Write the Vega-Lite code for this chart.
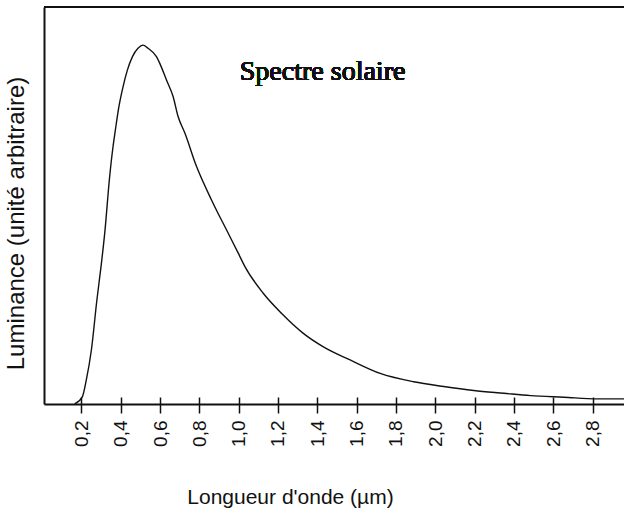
{
  "$schema": "https://vega.github.io/schema/vega-lite/v6.json",
  "width": 580,
  "height": 397,
  "autosize": "none",
  "padding": {"left": 44, "top": 7, "right": 0, "bottom": 120},
  "background": "white",
  "config": {"view": {"stroke": null}, "font": "Liberation Sans"},
  "data": {"values": [
    {"x": 0.166, "y": 0.0},
    {"x": 0.205, "y": 0.018},
    {"x": 0.225, "y": 0.06},
    {"x": 0.251, "y": 0.136},
    {"x": 0.279, "y": 0.262},
    {"x": 0.3, "y": 0.346},
    {"x": 0.319, "y": 0.431},
    {"x": 0.344, "y": 0.573},
    {"x": 0.361, "y": 0.648},
    {"x": 0.373, "y": 0.69},
    {"x": 0.391, "y": 0.749},
    {"x": 0.412, "y": 0.799},
    {"x": 0.434, "y": 0.841},
    {"x": 0.46, "y": 0.875},
    {"x": 0.488, "y": 0.896},
    {"x": 0.514, "y": 0.904},
    {"x": 0.539, "y": 0.896},
    {"x": 0.582, "y": 0.875},
    {"x": 0.599, "y": 0.858},
    {"x": 0.633, "y": 0.816},
    {"x": 0.667, "y": 0.774},
    {"x": 0.692, "y": 0.724},
    {"x": 0.726, "y": 0.683},
    {"x": 0.786, "y": 0.598},
    {"x": 0.862, "y": 0.514},
    {"x": 0.947, "y": 0.43},
    {"x": 0.998, "y": 0.38},
    {"x": 1.032, "y": 0.346},
    {"x": 1.125, "y": 0.279},
    {"x": 1.219, "y": 0.228},
    {"x": 1.329, "y": 0.178},
    {"x": 1.431, "y": 0.144},
    {"x": 1.567, "y": 0.111},
    {"x": 1.72, "y": 0.077},
    {"x": 1.89, "y": 0.056},
    {"x": 2.043, "y": 0.044},
    {"x": 2.196, "y": 0.034},
    {"x": 2.349, "y": 0.027},
    {"x": 2.485, "y": 0.021},
    {"x": 2.654, "y": 0.017},
    {"x": 2.825, "y": 0.013},
    {"x": 2.96, "y": 0.013}
  ]},
  "layer": [
    {
      "mark": {"type": "line", "color": "#111", "strokeWidth": 1.4, "interpolate": "monotone", "clip": true},
      "encoding": {
        "x": {"field": "x", "type": "quantitative", "scale": {"domain": [0.01, 2.96], "nice": false, "zero": false},
          "axis": {"orient": "bottom", "values": [0.2,0.4,0.6,0.8,1.0,1.2,1.4,1.6,1.8,2.0,2.2,2.4,2.6,2.8], "offset": -7, "domain": false, "grid": false, "labels": false, "title": null, "tickSize": 16, "tickColor": "#111", "tickWidth": 1.5}},
        "y": {"field": "y", "type": "quantitative", "scale": {"domain": [0, 1], "nice": false},
          "axis": {"domain": true, "domainColor": "#111", "domainWidth": 2, "ticks": false, "labels": false, "grid": false,
            "title": "Luminance (unité arbitraire)", "titleFontSize": 24, "titleFontWeight": "normal", "titleColor": "#111", "titleFont": "Liberation Sans", "titleX": -28, "titleY": 216, "titleAngle": 270, "titleAlign": "center", "titleBaseline": "middle"}}
      }
    },
    {
      "mark": {"type": "rule", "color": "#111", "strokeWidth": 2},
      "encoding": {"y": {"datum": 1}}
    },
    {
      "mark": {"type": "text", "font": "Liberation Serif", "fontSize": 28, "color": "#111", "align": "center", "baseline": "alphabetic"},
      "encoding": {
        "x": {"datum": 1.427, "type": "quantitative", "scale": {"domain": [0.01, 2.96], "nice": false, "zero": false},
          "axis": {"orient": "bottom", "values": [0.2,0.4,0.6,0.8,1.0,1.2,1.4,1.6,1.8,2.0,2.2,2.4,2.6,2.8], "domain": true, "domainColor": "#111", "domainWidth": 2, "ticks": false, "grid": false,
            "labelExpr": "replace(format(datum.value, '.1f'), '.', ',')", "labelAngle": 270, "labelAlign": "right", "labelBaseline": "middle", "labelPadding": 16, "labelFontSize": 19, "labelColor": "#111", "labelFont": "Liberation Sans",
            "title": "Longueur d'onde (µm)", "titleFontSize": 21, "titleFontWeight": "normal", "titleColor": "#111", "titleFont": "Liberation Sans", "titleX": 246, "titleY": 93, "titleAlign": "center", "titleBaseline": "middle"}},
        "y": {"datum": 0.816, "type": "quantitative"},
        "text": {"value": "Spectre solaire"}
      }
    }
  ],
  "resolve": {"axis": {"x": "independent"}}
}
